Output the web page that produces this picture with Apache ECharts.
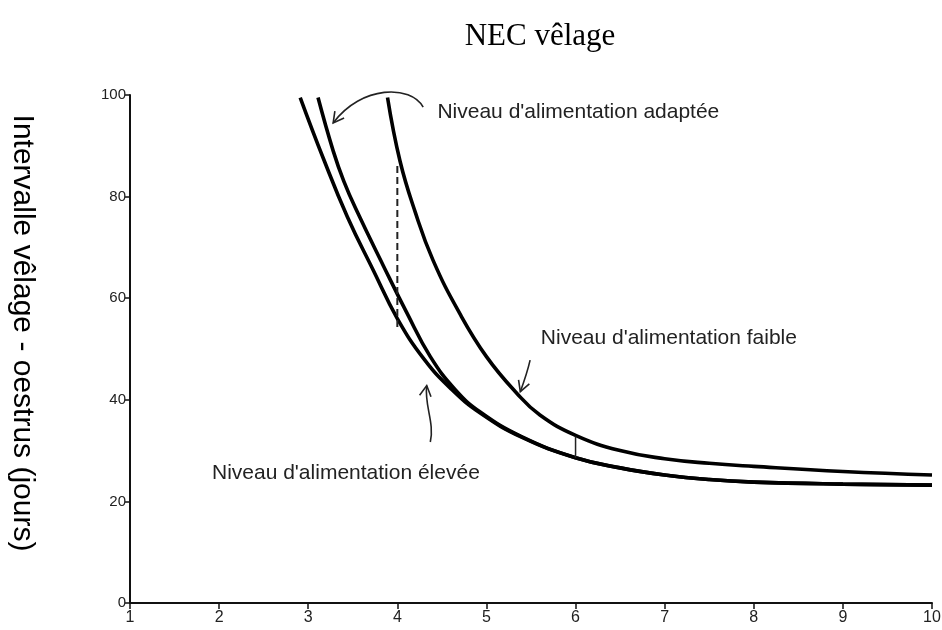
<!DOCTYPE html>
<html>
<head>
<meta charset="utf-8">
<title>NEC vêlage</title>
<script src="https://cdn.jsdelivr.net/npm/echarts@6/dist/echarts.min.js"></script>
<style>
  html, body { margin: 0; padding: 0; background: #fff; }
  #chart { width: 942px; height: 630px; }
</style>
</head>
<body>
<div id="chart"></div>
<script>
// axes
const xTicks = [1, 2, 3, 4, 5, 6, 7, 8, 9, 10];
const yTicks = [0, 20, 40, 60, 80, 100];

// curves (NEC vêlage -> jours)
const xFaible = [3.89, 4.03, 4.2, 4.4, 4.7, 5.0, 5.34, 5.6, 6, 6.5, 7, 7.5, 8, 9, 10];
const yFaible = [99.5, 87, 77, 67.5, 57, 48.5, 41.3, 37, 33, 30, 28.4, 27.5, 26.9, 25.9, 25.2];

const xAdaptee = [3.11, 3.28, 3.4, 3.55, 3.84, 4.11, 4.37, 4.65, 4.93, 5.4, 6, 6.5, 7, 7.5, 8, 9, 10];
const yAdaptee = [99.5, 89, 83, 77, 66.5, 57, 48.5, 42, 37.6, 32.7, 28.6, 26.6, 25.2, 24.3, 23.8, 23.4, 23.2];

const xElevee = [2.91, 3.17, 3.44, 3.73, 4.0, 4.3, 4.6, 4.93, 5.4, 6, 6.5, 7, 7.5, 8, 9, 10];
const yElevee = [99.5, 87.5, 76, 65.5, 56, 48, 42.2, 37.4, 32.6, 28.6, 26.6, 25.2, 24.3, 23.8, 23.4, 23.2];

// dashed drop at 4 and little mark at 6
const xDash = [4, 4];
const yDash = [86, 54];
const xMark = [6, 6];
const yMark = [28.6, 32.8];

const zip = (xs, ys) => xs.map((x, i) => [x, ys[i]]);

const chart = echarts.init(document.getElementById("chart"));

const curve = (name, xs, ys) => ({
  name,
  type: "line",
  data: zip(xs, ys),
  smooth: 0.45,
  symbol: "none",
  lineStyle: { color: "#000", width: 3.6 },
  silent: true,
});

chart.setOption({
  animation: false,
  grid: { left: 130, right: 10, top: 95, bottom: 27, outerBoundsMode: "none" },
  xAxis: {
    type: "value",
    min: xTicks[0],
    max: xTicks[xTicks.length - 1],
    interval: 1,
    axisLine: { show: true, lineStyle: { color: "#111", width: 2 } },
    axisTick: { show: true, length: 6, lineStyle: { color: "#111", width: 1.5 } },
    axisLabel: { fontFamily: "Liberation Sans", fontSize: 16, color: "#222", margin: 7 },
    splitLine: { show: false },
  },
  yAxis: {
    type: "value",
    min: yTicks[0],
    max: yTicks[yTicks.length - 1],
    interval: 20,
    axisLine: { show: true, lineStyle: { color: "#111", width: 2 } },
    axisTick: { show: true, length: 5, lineStyle: { color: "#111", width: 1.5 } },
    axisLabel: { fontFamily: "Liberation Sans", fontSize: 15, color: "#222", margin: 4 },
    splitLine: { show: false },
  },
  series: [
    curve("Niveau d'alimentation faible", xFaible, yFaible),
    curve("Niveau d'alimentation adaptée", xAdaptee, yAdaptee),
    curve("Niveau d'alimentation élevée", xElevee, yElevee),
    {
      type: "line",
      data: zip(xDash, yDash),
      symbol: "none",
      lineStyle: { color: "#222", width: 2, type: [7, 4] },
      silent: true,
    },
    {
      type: "line",
      data: zip(xMark, yMark),
      symbol: "none",
      lineStyle: { color: "#222", width: 1.5 },
      silent: true,
    },
  ],
});

// annotations, anchored in data units
const P = (x, y) => chart.convertToPixel({ gridIndex: 0 }, [x, y]);
const stroke = { stroke: "#222", lineWidth: 1.6, fill: null };

function head(tip, from, len = 12, ang = 0.5) {
  const a = Math.atan2(from[1] - tip[1], from[0] - tip[0]);
  return {
    type: "polyline",
    shape: {
      points: [
        [tip[0] + len * Math.cos(a + ang), tip[1] + len * Math.sin(a + ang)],
        tip,
        [tip[0] + len * Math.cos(a - ang), tip[1] + len * Math.sin(a - ang)],
      ],
    },
    style: stroke,
  };
}

function arrow(tail, c1, c2, tip) {
  const p0 = P(...tail), p1 = P(...c1), p2 = P(...c2), p3 = P(...tip);
  return [
    {
      type: "bezierCurve",
      shape: { x1: p0[0], y1: p0[1], cpx1: p1[0], cpy1: p1[1], cpx2: p2[0], cpy2: p2[1], x2: p3[0], y2: p3[1] },
      style: stroke,
    },
    head(p3, p2),
  ];
}

function label(text, x, y) {
  const p = P(x, y);
  return {
    type: "text",
    x: p[0],
    y: p[1],
    style: {
      text,
      fill: "#222",
      font: "21px 'Liberation Sans'",
      textAlign: "left",
      textVerticalAlign: "middle",
    },
  };
}

chart.setOption({
  graphic: [
    {
      type: "text",
      x: 540,
      y: 37,
      style: {
        text: "NEC vêlage",
        fill: "#000",
        font: "31px 'Liberation Serif'",
        textAlign: "center",
        textVerticalAlign: "middle",
      },
    },
    {
      type: "text",
      x: 22,
      y: 333,
      rotation: -Math.PI / 2,
      style: {
        text: "Intervalle vêlage - oestrus (jours)",
        fill: "#000",
        font: "30px 'Liberation Sans'",
        textAlign: "center",
        textVerticalAlign: "middle",
      },
    },
    label("Niveau d'alimentation adaptée", 4.45, 96.7),
    label("Niveau d'alimentation faible", 5.61, 52.2),
    label("Niveau d'alimentation élevée", 1.92, 25.6),
    ...arrow([4.29, 97.6], [4.15, 102], [3.6, 102], [3.28, 94.5]),
    ...arrow([5.49, 47.8], [5.46, 45.5], [5.42, 43.5], [5.38, 41.6]),
    ...arrow([4.37, 31.7], [4.42, 35.5], [4.3, 39], [4.33, 42.8]),
  ],
});
</script>
</body>
</html>
